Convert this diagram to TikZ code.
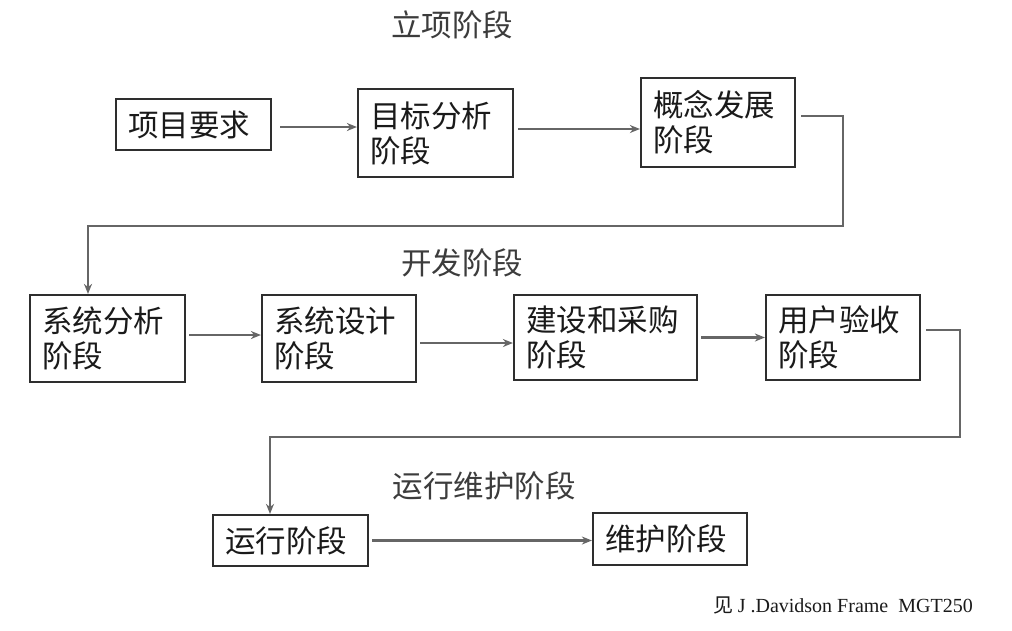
\documentclass[tikz,border=0pt]{standalone}
\usepackage{fontspec}
\setmainfont{Noto Sans CJK SC}
\newfontfamily\capserif{Liberation Serif}
\usetikzlibrary{arrows.meta}
\definecolor{boxline}{HTML}{2E2E2E}
\definecolor{connline}{HTML}{666666}
\definecolor{txt}{HTML}{1A1A1A}
\tikzset{
  stagebox/.style={draw=boxline, line width=2.2pt, align=left, inner xsep=12pt, inner ysep=0pt,
    text=txt, font=\fontsize{30.5}{35}\selectfont},
  conn/.style={draw=connline, line width=2.6pt, -{Stealth[length=10pt,width=8pt]}},
  phase/.style={text=txt!85, font=\fontsize{30.5}{35}\selectfont}
}
\begin{document}
\begin{tikzpicture}[x=1pt,y=-1pt]
\useasboundingbox (0,0) rectangle (1012,630);
% phase titles
\node[phase] (p1) at (452,25) {立项阶段};
\node[phase] (p2) at (462,263) {开发阶段};
\node[phase] (p3) at (484,486) {运行维护阶段};
% row 1
\node[stagebox, text width=131pt, minimum height=51pt] (a) at (193.5,124.5) {项目要求};
\node[stagebox, text width=131pt, minimum height=88pt] (b) at (435.5,133) {目标分析\\阶段};
\node[stagebox, text width=130pt, minimum height=89pt] (c) at (718,122.5) {概念发展\\阶段};
% row 2
\node[stagebox, text width=131pt, minimum height=87pt] (d) at (107.5,338.5) {系统分析\\阶段};
\node[stagebox, text width=130pt, minimum height=87pt] (e) at (339,338.5) {系统设计\\阶段};
\node[stagebox, text width=159pt, minimum height=85pt] (f) at (605.5,337.5) {建设和采购\\阶段};
\node[stagebox, text width=130pt, minimum height=85pt] (g) at (843,337.5) {用户验收\\阶段};
% row 3
\node[stagebox, text width=131pt, minimum height=51pt] (h) at (290.5,540.5) {运行阶段};
\node[stagebox, text width=130pt, minimum height=52pt] (i) at (670,539) {维护阶段};
% caption
\node[anchor=east, inner sep=0pt, text=txt, font=\fontsize{20}{24}\selectfont] (cap) at (973,605) {见 {\capserif J .Davidson Frame\ \ MGT250}};
% turning points
\coordinate (t1) at (843,226);
\coordinate (t2) at (88,226);
\coordinate (t3) at (960,437);
\coordinate (t4) at (270,437);
% connectors
\draw[conn] ([xshift=8pt,yshift=-2.5pt]a.east) -- ([yshift=-2.5pt]a.east -| b.west);
\draw[conn] ([xshift=4pt,yshift=4pt]b.east) -- ([yshift=4pt]b.east -| c.west);
\draw[conn] ([xshift=5pt,yshift=6.5pt]c.east) -- ([yshift=6.5pt]c.east -| t1) -- (t1) -- (t2) -- (t2 |- d.north);
\draw[conn] ([xshift=3pt,yshift=3.5pt]d.east) -- ([yshift=3.5pt]d.east -| e.west);
\draw[conn] ([xshift=3pt,yshift=-4.5pt]e.east) -- ([yshift=-4.5pt]e.east -| f.west);
\draw[conn] ([xshift=3pt]f.east) -- (f.east -| g.west);
\draw[conn] ([xshift=5pt,yshift=7.5pt]g.east) -- ([yshift=7.5pt]g.east -| t3) -- (t3) -- (t4) -- (t4 |- h.north);
\draw[conn] ([xshift=3pt]h.east) -- (h.east -| i.west);
\end{tikzpicture}
\end{document}
